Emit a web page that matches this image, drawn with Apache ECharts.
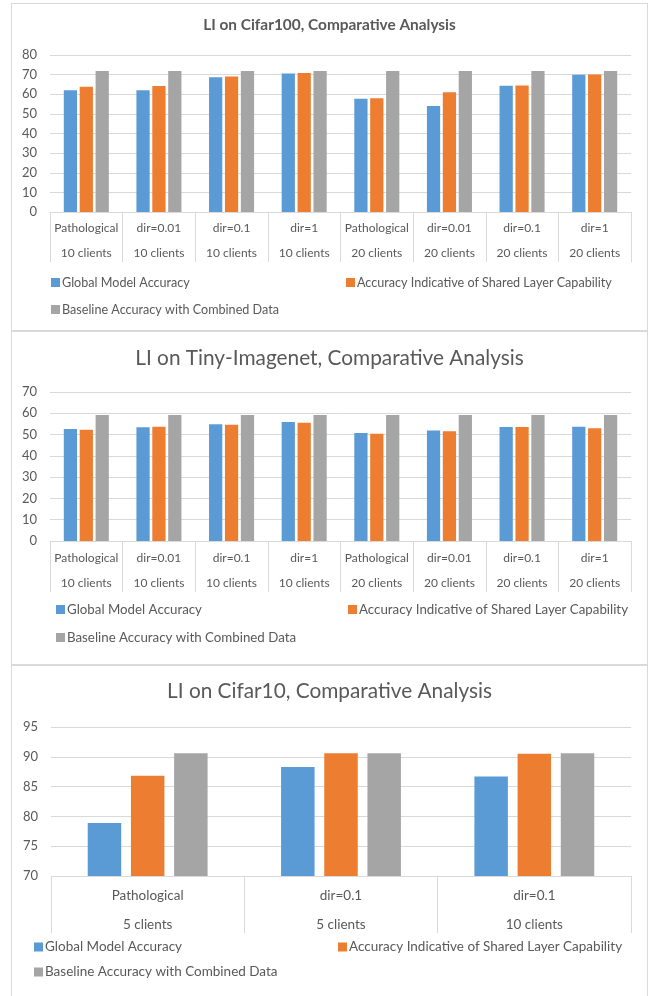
<!DOCTYPE html>
<html lang="en">

<head>
  <meta charset="UTF-8" />
  <title>LI Comparative Analysis</title>
  <style>
    * {
      padding: 0;
      margin: 0;
    }

    html,
    body {
      width: 100%;
      height: 100%;
      background: #fff;
      overflow: hidden;
    }

    .panel {
      position: absolute;
      left: 11px;
      width: 637px;
      box-sizing: border-box;
      border: 1px solid #d9d9d9;
      background: #fff;
    }

    #c1 {
      top: 3px;
      height: 328px;
    }

    #c2 {
      top: 331px;
      height: 334px;
    }

    #c3 {
      top: 665px;
      height: 340px;
    }
  </style>
</head>

<body>
  <div class="panel" id="c1"></div>
  <div class="panel" id="c2"></div>
  <div class="panel" id="c3"></div>
  <script src="https://cdn.jsdelivr.net/npm/echarts@6/dist/echarts.min.js"></script>
  <script>
    // series names
    var seriesNames = [
      'Global Model Accuracy',
      'Accuracy Indicative of Shared Layer Capability',
      'Baseline Accuracy with Combined Data'
    ]
    var colors = ['#5b9bd5', '#ed7d31', '#a5a5a5']

    // Cifar100
    var cifar100Cats = ['Pathological\n10 clients', 'dir=0.01\n10 clients', 'dir=0.1\n10 clients', 'dir=1\n10 clients',
      'Pathological\n20 clients', 'dir=0.01\n20 clients', 'dir=0.1\n20 clients', 'dir=1\n20 clients']
    var cifar100Global = [62.1, 62.1, 68.6, 70.6, 57.7, 54.0, 64.3, 69.9]
    var cifar100Shared = [63.8, 64.2, 69.1, 70.8, 58.0, 61.0, 64.5, 70.1]
    var cifar100Baseline = [71.8, 71.8, 71.8, 71.8, 71.8, 71.8, 71.8, 71.8]

    // Tiny-Imagenet
    var tinyCats = cifar100Cats
    var tinyGlobal = [52.6, 53.4, 54.8, 55.9, 50.7, 51.9, 53.5, 53.7]
    var tinyShared = [52.3, 53.7, 54.6, 55.6, 50.4, 51.6, 53.5, 53.0]
    var tinyBaseline = [59.2, 59.2, 59.2, 59.2, 59.2, 59.2, 59.2, 59.2]

    // Cifar10
    var cifar10Cats = ['Pathological\n5 clients', 'dir=0.1\n5 clients', 'dir=0.1\n10 clients']
    var cifar10Global = [78.9, 88.3, 86.7]
    var cifar10Shared = [86.8, 90.6, 90.5]
    var cifar10Baseline = [90.6, 90.6, 90.6]

    var FONT = 'Lato'
    var TXT = '#595959'
    var LINE = '#d9d9d9'

    function build(cfg) {
      var values = [cfg.g, cfg.s, cfg.b]
      var series = values.map(function (v, i) {
        return {
          name: seriesNames[i],
          type: 'bar',
          data: v,
          barGap: cfg.barGap,
          barCategoryGap: '38%',
          itemStyle: { color: colors[i] },
          silent: true
        }
      })
      var legends = cfg.legendPos.map(function (p, i) {
        return {
          data: [seriesNames[i]],
          left: p[0],
          top: p[1],
          icon: 'rect',
          itemWidth: 9,
          itemHeight: 9,
          selectedMode: false,
          padding: 0,
          textStyle: { fontFamily: FONT, fontSize: cfg.legendSize, color: TXT, padding: [0, 0, 0, -3] }
        }
      })
      return {
        animation: false,
        color: colors,
        textStyle: { fontFamily: FONT },
        title: {
          text: cfg.title,
          left: 'center',
          top: cfg.titleTop,
          textStyle: { fontFamily: FONT, fontSize: cfg.titleSize, fontWeight: cfg.titleWeight, color: TXT }
        },
        legend: legends,
        grid: cfg.grid,
        xAxis: {
          type: 'category',
          data: cfg.cats,
          axisLine: { lineStyle: { color: LINE } },
          axisTick: { show: true, length: cfg.tickLen, lineStyle: { color: LINE } },
          axisLabel: {
            color: TXT,
            fontFamily: FONT,
            fontSize: cfg.catSize,
            lineHeight: cfg.catLine,
            margin: cfg.catMargin,
            interval: 0
          }
        },
        yAxis: {
          type: 'value',
          min: cfg.min,
          max: cfg.max,
          interval: cfg.step,
          axisLine: { show: false },
          axisTick: { show: false },
          splitLine: { lineStyle: { color: LINE } },
          axisLabel: { color: TXT, fontFamily: FONT, fontSize: 13, margin: 13 }
        },
        series: series
      }
    }

    var chart1 = echarts.init(document.getElementById('c1'))
    chart1.setOption(build({
      title: 'LI on Cifar100, Comparative Analysis',
      titleTop: 9, titleSize: 15.4, titleWeight: 'bold',
      cats: cifar100Cats, g: cifar100Global, s: cifar100Shared, b: cifar100Baseline,
      min: 0, max: 80, step: 10,
      grid: { left: 38, right: 16, top: 51, bottom: 118 },
      barGap: '20%', tickLen: 50, catSize: 12, catLine: 24.5, catMargin: 4,
      legendSize: 12.6,
      legendPos: [[39, 272], [334, 272], [39, 299]]
    }))

    var chart2 = echarts.init(document.getElementById('c2'))
    chart2.setOption(build({
      title: 'LI on Tiny-Imagenet, Comparative Analysis',
      titleTop: 10.5, titleSize: 20.8, titleWeight: 'normal',
      cats: tinyCats, g: tinyGlobal, s: tinyShared, b: tinyBaseline,
      min: 0, max: 70, step: 10,
      grid: { left: 38, right: 16, top: 60, bottom: 123 },
      barGap: '20%', tickLen: 51, catSize: 12, catLine: 24.5, catMargin: 5,
      legendSize: 13.3,
      legendPos: [[44, 271], [336, 271], [44, 299]]
    }))

    var chart3 = echarts.init(document.getElementById('c3'))
    chart3.setOption(build({
      title: 'LI on Cifar10, Comparative Analysis',
      titleTop: 9.5, titleSize: 20.8, titleWeight: 'normal',
      cats: cifar10Cats, g: cifar10Global, s: cifar10Shared, b: cifar10Baseline,
      min: 70, max: 95, step: 5,
      grid: { left: 39, right: 16, top: 61, bottom: 128 },
      barGap: '29%', tickLen: 57, catSize: 13.5, catLine: 29, catMargin: 5,
      legendSize: 13.5,
      legendPos: [[22, 274], [326, 274], [22, 299]]
    }))

    window.addEventListener('resize', function () {
      chart1.resize()
      chart2.resize()
      chart3.resize()
    })
  </script>
</body>

</html>
